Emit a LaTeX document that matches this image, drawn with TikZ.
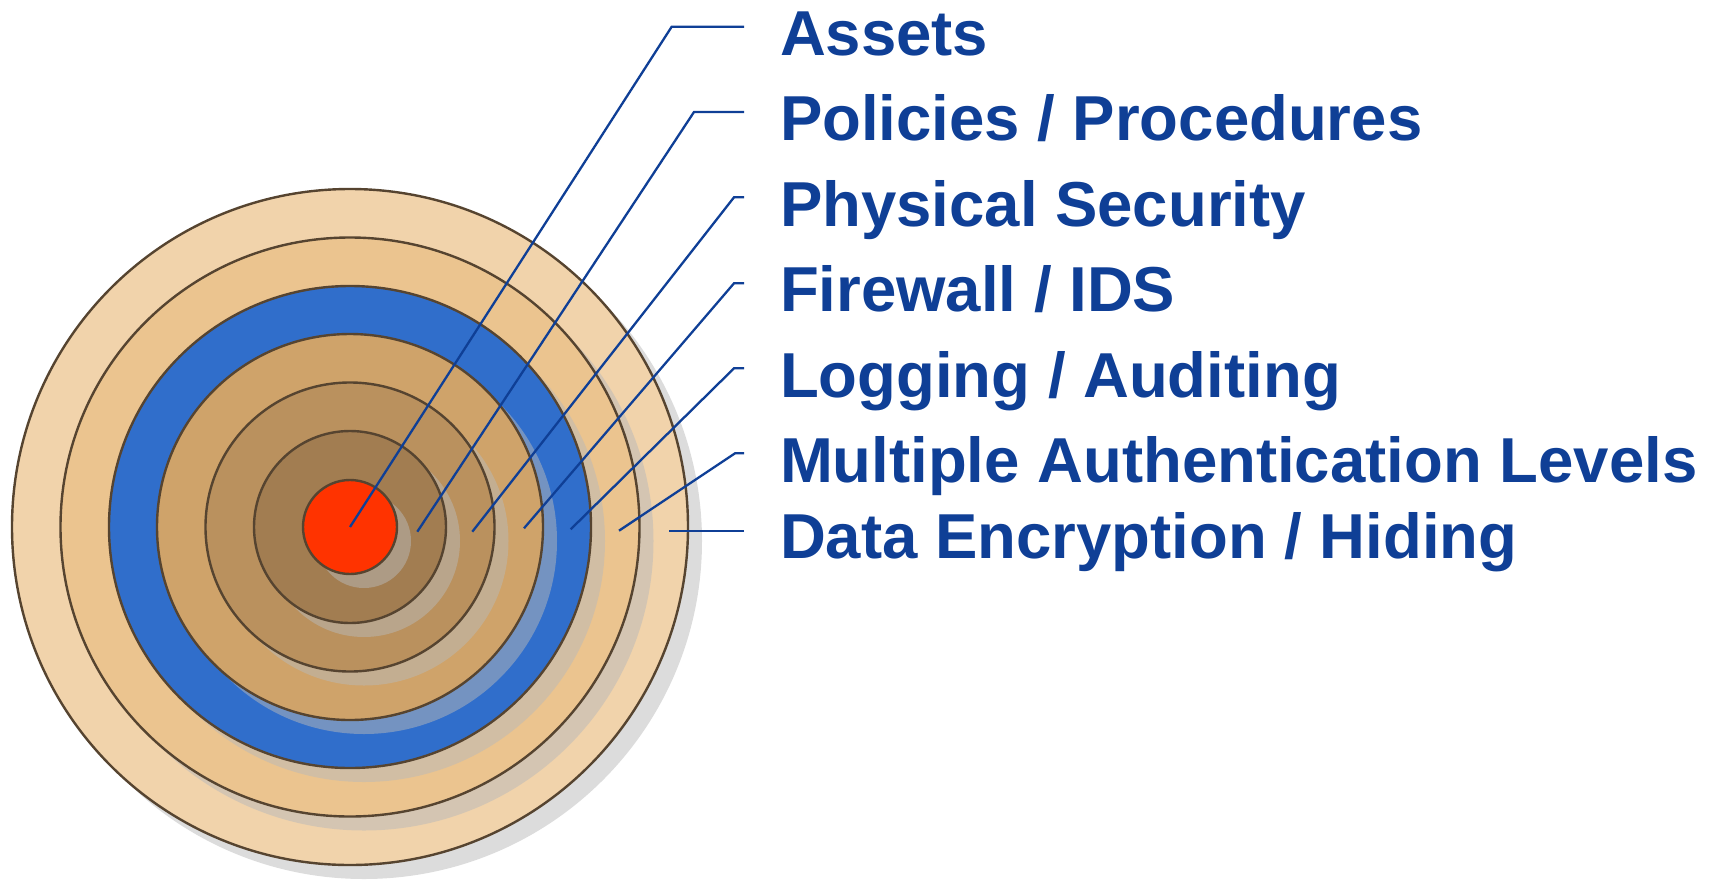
\documentclass[tikz,border=0pt]{standalone}
\usepackage{fontspec}
\setmainfont{Liberation Sans}
\usetikzlibrary{shadows}

\definecolor{ringA}{HTML}{F1D3AB}
\definecolor{ringB}{HTML}{EBC48F}
\definecolor{ringC}{HTML}{306ECB}
\definecolor{ringD}{HTML}{CFA36A}
\definecolor{ringE}{HTML}{BA915E}
\definecolor{ringF}{HTML}{A27D51}
\definecolor{core}{HTML}{FF3300}
\definecolor{ringline}{HTML}{564430}
\definecolor{shadowgray}{HTML}{B9B9B9}
\definecolor{labelblue}{HTML}{0F3F96}

\begin{document}
\begin{tikzpicture}[x=1pt, y=-1pt,
  ring/.style={circle, inner sep=0pt, outer sep=0pt, draw=ringline, line width=2.4pt,
    drop shadow={shadow xshift=14pt, shadow yshift=-14pt, fill=shadowgray, opacity=0.5}},
  leader/.style={draw=labelblue, line width=2.3pt},
  layer/.style={font=\fontsize{63.5}{70}\selectfont\bfseries, text=labelblue,
    anchor=base west, inner sep=0pt, outer sep=0pt}]
\useasboundingbox (0,0) rectangle (1717,879);

% concentric defence layers, outermost first
\coordinate (c) at (350,527);
\node[ring, fill=ringA, minimum size=676pt] (hiding)   at (c) {};
\node[ring, fill=ringB, minimum size=579pt] (authlvl)  at (c) {};
\node[ring, fill=ringC, minimum size=482pt] (logging)  at (c) {};
\node[ring, fill=ringD, minimum size=386pt] (firewall) at (c) {};
\node[ring, fill=ringE, minimum size=289pt] (physical) at (c) {};
\node[ring, fill=ringF, minimum size=192pt] (policies) at (c) {};
\node[ring, fill=core,  minimum size=94pt]  (assets)   at (c) {};

% labels
\node[layer] (tAssets)   at (780,55)  {Assets};
\node[layer] (tPolicies) at (780,140) {Policies / Procedures};
\node[layer] (tPhysical) at (780,226) {Physical Security};
\node[layer] (tFirewall) at (780,311) {Firewall / IDS};
\node[layer] (tLogging)  at (780,397) {Logging / Auditing};
\node[layer] (tAuth)     at (780,482) {Multiple Authentication Levels};
\node[layer] (tData)     at (780,558) {Data Encryption / Hiding};

% leader line anchors
\coordinate (s1) at (744,26.7);  \coordinate (k1) at (671.7,26.7);
\coordinate (s2) at (744,112);   \coordinate (k2) at (694,112);    \coordinate (e2) at (417.3,531.7);
\coordinate (s3) at (744,197.3); \coordinate (k3) at (734,197.3);  \coordinate (e3) at (472.3,531.7);
\coordinate (s4) at (744,283.3); \coordinate (k4) at (734,283.3);  \coordinate (e4) at (524,528.3);
\coordinate (s5) at (744,368.3); \coordinate (k5) at (734,368.3);  \coordinate (e5) at (570.7,529.3);
\coordinate (s6) at (744,453.3); \coordinate (k6) at (735,453.3);  \coordinate (e6) at (619,530.7);
\coordinate (s7) at (744,530.7); \coordinate (e7) at (669.3,530.7);

% leader lines
\draw[leader] (s1) -- (k1) -- (assets.center);
\draw[leader] (s2) -- (k2) -- (e2);
\draw[leader] (s3) -- (k3) -- (e3);
\draw[leader] (s4) -- (k4) -- (e4);
\draw[leader] (s5) -- (k5) -- (e5);
\draw[leader] (s6) -- (k6) -- (e6);
\draw[leader] (s7) -- (e7);
\end{tikzpicture}
\end{document}
